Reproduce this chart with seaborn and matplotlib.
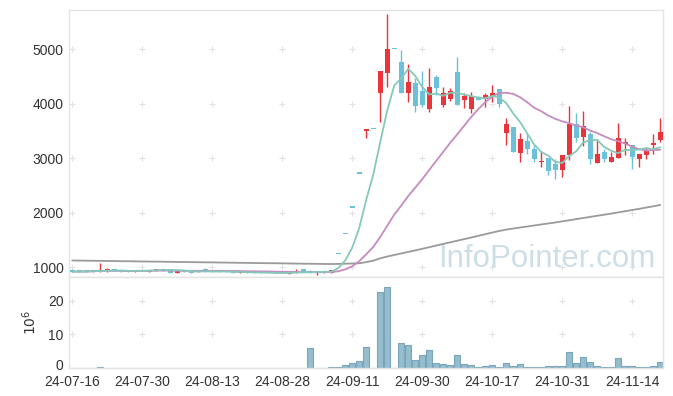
import numpy as np
import pandas as pd
import matplotlib
matplotlib.use("Agg")
import matplotlib.pyplot as plt
import matplotlib.transforms as mtransforms
import seaborn as sns

# ---------------- data ----------------
opens = [957, 955, 950, 922, 922, 940, 968, 945, 945, 920,
         926, 920, 926, 928, 963, 902, 933, 933, 914, 975,
         945, 945, 939, 933, 896, 926, 920, 914, 920, 914,
         920, 884, 902, 963, 939, 902, 890, 890, 1240, 1610,
         2095, 2720, 3500, 3535, 4200, 4560, 5000, 4760, 4200, 4375,
         4235, 3910, 4490, 3980, 4095, 4585, 4070, 3910, 4110, 4085,
         4125, 4270, 3460, 3575, 3090, 3320, 3165, 2925, 3005, 2895,
         2790, 3065, 3630, 3395, 3445, 2920, 3120, 2940, 3010, 3270,
         3245, 2990, 3065, 3250, 3335]
highs = [960, 958, 952, 953, 1079, 985, 970, 950, 947, 947,
         953, 948, 970, 972, 966, 948, 936, 936, 950, 978,
         948, 948, 942, 936, 930, 930, 923, 917, 923, 917,
         923, 939, 963, 966, 942, 917, 923, 948, 1240, 1610,
         2095, 2720, 3535, 3535, 4600, 5640, 5000, 4980, 4725, 4470,
         4600, 4650, 4530, 4310, 4285, 4860, 4200, 4210, 4150, 4195,
         4345, 4270, 3735, 3580, 3460, 3445, 3240, 3140, 3005, 2990,
         3060, 3960, 3830, 3870, 3490, 3350, 3170, 3120, 3640, 3370,
         3245, 3080, 3185, 3445, 3735]
lows = [918, 920, 920, 920, 920, 914, 930, 920, 918, 918,
        924, 912, 924, 925, 898, 898, 910, 898, 910, 922,
        922, 910, 905, 898, 893, 893, 892, 892, 892, 887,
        887, 878, 890, 910, 898, 853, 887, 887, 1240, 1610,
        2095, 2720, 3370, 3535, 3660, 4310, 5000, 4200, 4030, 3855,
        3945, 3855, 4160, 3935, 4055, 3970, 3920, 3835, 4070, 3945,
        4040, 3935, 3240, 3120, 2940, 3080, 2940, 2835, 2700, 2625,
        2665, 2975, 3305, 3225, 2890, 2920, 2940, 2940, 3010, 3060,
        2800, 2835, 2980, 3080, 3305]
closes = [920, 922, 922, 950, 945, 950, 933, 926, 920, 945,
          951, 945, 968, 969, 902, 945, 914, 902, 945, 926,
          926, 914, 908, 902, 926, 896, 896, 896, 896, 890,
          890, 914, 926, 914, 902, 914, 920, 945, 1240, 1610,
          2095, 2720, 3535, 3535, 4600, 5000, 5000, 4200, 4400, 3965,
          3980, 4310, 4280, 4200, 4230, 3985, 4145, 4140, 4070, 4160,
          4200, 4000, 3630, 3120, 3355, 3165, 2990, 2955, 2775, 2790,
          3060, 3630, 3380, 3595, 2995, 3080, 2995, 3025, 3375, 3305,
          3030, 3080, 3140, 3280, 3485]
volume_m = [0.05, 0.05, 0.05, 0.05, 0.25, 0.05, 0.05, 0.05, 0.05, 0.05,
            0.05, 0.05, 0.05, 0.05, 0.05, 0.05, 0.05, 0.05, 0.05, 0.05,
            0.05, 0.05, 0.05, 0.05, 0.05, 0.05, 0.05, 0.05, 0.05, 0.05,
            0.05, 0.05, 0.05, 0.05, 5.9, 0.0, 0.0, 0.3, 0.3, 0.8,
            1.5, 2.1, 6.2, 0.0, 22.6, 24.1, 0.0, 7.4, 6.8, 2.3,
            3.8, 5.3, 1.4, 1.1, 0.8, 3.8, 1.1, 0.8, 0.3, 0.5,
            0.9, 0.2, 1.4, 0.5, 1.1, 0.2, 0.2, 0.2, 0.5, 0.5,
            0.5, 4.7, 1.4, 3.2, 1.7, 0.5, 0.2, 0.2, 2.9, 0.5,
            0.7, 0.2, 0.2, 0.5, 1.7]
ma120 = [1125, 1123, 1121, 1120, 1118, 1116, 1114, 1112, 1111, 1109,
         1107, 1105, 1104, 1102, 1100, 1098, 1097, 1095, 1093, 1091,
         1090, 1088, 1086, 1084, 1082, 1081, 1079, 1077, 1075, 1074,
         1072, 1070, 1068, 1066, 1065, 1063, 1061, 1060, 1062, 1066,
         1070, 1074, 1095, 1121, 1165, 1198, 1226, 1254, 1282, 1310,
         1339, 1369, 1399, 1429, 1458, 1488, 1517, 1547, 1577, 1607,
         1637, 1666, 1692, 1711, 1730, 1748, 1767, 1786, 1804, 1822,
         1843, 1863, 1884, 1904, 1925, 1945, 1965, 1985, 2007, 2029,
         2051, 2073, 2096, 2119, 2143]
tick_labels = ["24-07-16", "24-07-30", "24-08-13", "24-08-28", "24-09-11",
               "24-09-30", "24-10-17", "24-10-31", "24-11-14"]
price_ticks = [1000, 2000, 3000, 4000, 5000]
vol_ticks = [0, 10, 20]

# ---------------- build frame ----------------
n = len(closes)
df = pd.DataFrame({"i": np.arange(n), "open": opens, "high": highs, "low": lows,
                   "close": closes, "vol": volume_m, "ma120": ma120})
df["ma5"] = df["close"].rolling(5, min_periods=1).mean()
df["ma20"] = df["close"].rolling(20, min_periods=1).mean()

RED = "#e8343a"
BLUE = "#6cc0da"
GRID = "#e2e2e2"
SPINE = "#e4e4e4"
TXT = "#333333"

sns.set_style("white")
plt.rcParams["font.family"] = ["Liberation Sans", "DejaVu Sans"]

fig = plt.figure(figsize=(6.73, 3.96), dpi=100)
L, W = 69 / 673, (663 - 69) / 673
ax = fig.add_axes([L, 1 - 277 / 396, W, (277 - 10) / 396])
axv = fig.add_axes([L, 1 - 368 / 396, W, (368 - 277) / 396], sharex=ax)

xticks = list(range(0, 81, 10))

# grid crosses
for a, yt in ((ax, price_ticks), (axv, vol_ticks[1:])):
    gx, gy = np.meshgrid(xticks, yt)
    a.scatter(gx.ravel(), gy.ravel(), marker="+", s=14, color=GRID, lw=0.8, zorder=0)

# candles
up = df["close"] > df["open"]
colors = np.where(up, RED, BLUE)
ax.vlines(df["i"], df["low"], df["high"], colors=colors, lw=1.0, zorder=2)
body_bottom = np.minimum(df["open"], df["close"])
body_h = np.maximum(np.abs(df["close"] - df["open"]), 22)
ax.bar(df["i"], body_h, bottom=body_bottom, width=0.72, color=colors, lw=0, zorder=3)

# moving averages
sns.lineplot(data=df, x="i", y="ma120", ax=ax, color="#9a9a9a", lw=1.3, zorder=4)
sns.lineplot(data=df, x="i", y="ma20", ax=ax, color="#c68bc0", lw=1.3, zorder=4)
sns.lineplot(data=df, x="i", y="ma5", ax=ax, color="#86c9ba", lw=1.3, zorder=4)

ax.text(0.804, 0.038, "InfoPointer.com", transform=ax.transAxes, ha="center",
        va="baseline", fontsize=22.5, color="#c8dbe5", alpha=0.9, zorder=1,
        family=["Liberation Sans", "DejaVu Sans"])

# volume bars
sns.barplot(data=df, x="i", y="vol", ax=axv, color="#96bdcd", saturation=1,
            width=0.86, edgecolor="#7aa5bb", linewidth=0.8, zorder=2)

ax.set_xlim(-0.47, 84.4)
ax.set_ylim(822, 5720)
axv.set_ylim(0, 27.1)
ax.set_yticks(price_ticks)
axv.set_yticks(vol_ticks)
axv.set_xticks(xticks)
axv.set_xticklabels(tick_labels)
ax.tick_params(axis="x", labelbottom=False, length=0)
for a in (ax, axv):
    a.tick_params(axis="both", length=0, labelsize=10, colors=TXT, pad=4)
    a.set_xlabel("")
    a.set_ylabel("")
    for s in a.spines.values():
        s.set_color(SPINE)
        s.set_linewidth(1.0)
axv.tick_params(axis="x", pad=5)
axv.set_xlim(-0.47, 84.4)
axv.set_ylabel("$10^6$", fontsize=10, color=TXT, labelpad=6)

# nudge the "0" volume label up slightly so it clears the first date label
zero_lbl = axv.yaxis.get_major_ticks()[0].label1
zero_lbl.set_transform(zero_lbl.get_transform() +
                       mtransforms.ScaledTranslation(0, 2.5 / 72, fig.dpi_scale_trans))

fig.savefig("out.png", dpi=100, facecolor="white")
